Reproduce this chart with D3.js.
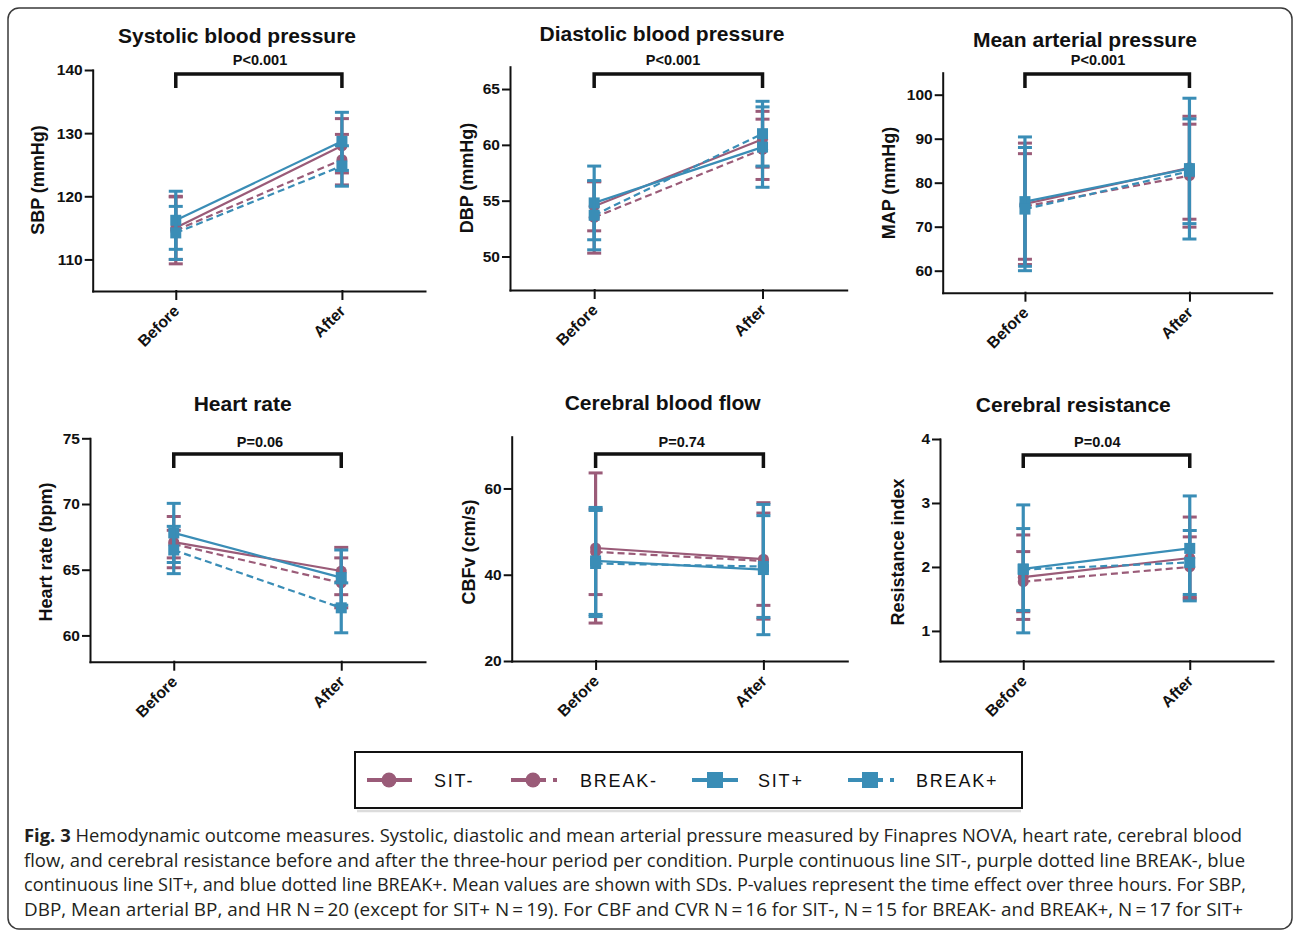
<!DOCTYPE html>
<html>
<head>
<meta charset="utf-8">
<script src="https://cdn.jsdelivr.net/npm/d3@7"></script>
<style>
  body { margin: 0; background: #fff; }
  svg { display: block; }
</style>
</head>
<body>
<svg id="fig" width="1295" height="936"></svg>
<script>
// Hemodynamic outcome measures, mean +/- SD, before and after the three hours

const timepoints = ['Before', 'After'];
const seriesNames = ['SIT-', 'BREAK-', 'SIT+', 'BREAK+'];
const panelTitles = ['Systolic blood pressure', 'Diastolic blood pressure', 'Mean arterial pressure',
  'Heart rate', 'Cerebral blood flow', 'Cerebral resistance'];
const yLabels = ['SBP (mmHg)', 'DBP (mmHg)', 'MAP (mmHg)', 'Heart rate (bpm)', 'CBFv (cm/s)', 'Resistance index'];
const pLabels = ['P<0.001', 'P<0.001', 'P<0.001', 'P=0.06', 'P=0.74', 'P=0.04'];
const yDomains = [[105, 140], [47, 67], [55, 105], [58, 75], [20, 72], [0.53, 4]];
const yTicks = [[110, 120, 130, 140], [50, 55, 60, 65], [60, 70, 80, 90, 100], [60, 65, 70, 75], [20, 40, 60], [1, 2, 3, 4]];

// rows: SIT-, BREAK-, SIT+, BREAK+ ; columns: Before, After
const sbpMean = [[115.0, 128.0], [114.6, 125.8], [116.2, 128.7], [114.2, 124.8]];
const sbpSD = [[5.0, 4.3], [5.3, 4.0], [4.6, 4.6], [4.2, 3.2]];
const dbpMean = [[54.5, 60.5], [53.5, 59.6], [54.8, 59.8], [53.7, 61.0]];
const dbpSD = [[2.2, 2.5], [3.2, 2.7], [3.3, 3.6], [3.1, 2.9]];
const mapMean = [[75.2, 83.4], [74.6, 81.6], [75.7, 83.2], [74.0, 82.6]];
const mapSD = [[13.8, 11.7], [12.0, 11.7], [14.7, 16.0], [14.0, 11.9]];
const hrMean = [[67.1, 64.9], [66.95, 64.0], [67.8, 64.4], [66.5, 62.1]];
const hrSD = [[1.95, 1.8], [1.05, 1.9], [2.25, 2.1], [1.8, 1.9]];
const cbfMean = [[46.2, 43.6], [45.3, 43.2], [43.2, 41.2], [42.6, 41.9]];
const cbfSD = [[17.4, 10.7], [9.9, 13.5], [12.4, 15.1], [12.3, 11.8]];
const cvrMean = [[1.84, 2.14], [1.77, 2.0], [1.97, 2.29], [1.96, 2.07]];
const cvrSD = [[0.66, 0.64], [0.47, 0.47], [1.0, 0.82], [0.64, 0.5]];

const panelMeans = [sbpMean, dbpMean, mapMean, hrMean, cbfMean, cvrMean];
const panelSDs = [sbpSD, dbpSD, mapSD, hrSD, cbfSD, cvrSD];

const captionLines = [
  ' Hemodynamic outcome measures. Systolic, diastolic and mean arterial pressure measured by Finapres NOVA, heart rate, cerebral blood',
  'flow, and cerebral resistance before and after the three-hour period per condition. Purple continuous line SIT-, purple dotted line BREAK-, blue',
  'continuous line SIT+, and blue dotted line BREAK+. Mean values are shown with SDs. P-values represent the time effect over three hours. For SBP,',
  'DBP, Mean arterial BP, and HR N\u2009=\u200920 (except for SIT+ N\u2009=\u200919). For CBF and CVR N\u2009=\u200916 for SIT-, N\u2009=\u200915 for BREAK- and BREAK+, N\u2009=\u200917 for SIT+'
];

// ---- layout ----
const PURPLE = '#9a5b78';
const BLUE = '#3a8db6';
const FONT = 'Arial, "Liberation Sans", sans-serif';

const seriesStyle = [
  {color: PURPLE, dash: null, shape: 'circle'},
  {color: PURPLE, dash: '7,4', shape: 'circle'},
  {color: BLUE, dash: null, shape: 'square'},
  {color: BLUE, dash: '7,4', shape: 'square'}
];

const panels = [
  {x0: 92.7, x1: 425, yTop: 70, yBottom: 291, titleX: 237, titleY: 43, labX: 38, labY: 180, pX: 260, pY: 65, brY: 74, brLeg: 88},
  {x0: 510, x1: 846.7, yTop: 66.7, yBottom: 290, titleX: 662, titleY: 41, labX: 466.7, labY: 178, pX: 673, pY: 65, brY: 74, brLeg: 88},
  {x0: 942.7, x1: 1271.7, yTop: 72.7, yBottom: 292.7, titleX: 1085, titleY: 47, labX: 889.3, labY: 183, pX: 1098, pY: 65, brY: 74, brLeg: 88},
  {x0: 90, x1: 425, yTop: 438.3, yBottom: 661.7, titleX: 242.7, titleY: 411, labX: 46, labY: 552, pX: 260, pY: 447, brY: 454, brLeg: 468},
  {x0: 511.7, x1: 847.3, yTop: 436.7, yBottom: 661, titleX: 662.7, titleY: 410, labX: 469.3, labY: 552, pX: 681.7, pY: 447, brY: 454, brLeg: 468},
  {x0: 940, x1: 1273, yTop: 439, yBottom: 661, titleX: 1073.3, titleY: 412, labX: 898.3, labY: 552, pX: 1097.3, pY: 447, brY: 455, brLeg: 468}
];

const svg = d3.select('#fig');

// outer frame
svg.append('rect')
  .attr('x', 8).attr('y', 8).attr('width', 1284).attr('height', 921).attr('rx', 11)
  .attr('fill', 'none').attr('stroke', '#3a3a3a').attr('stroke-width', 1.5);

panels.forEach((p, i) => {
  const g = svg.append('g').attr('class', 'panel');
  const x = d3.scalePoint().domain(timepoints).range([p.x0, p.x1]).padding(0.5);
  const y = d3.scaleLinear().domain(yDomains[i]).range([p.yBottom, p.yTop]);

  // y axis
  const yAx = g.append('g')
    .attr('transform', `translate(${p.x0},0)`)
    .call(d3.axisLeft(y).tickValues(yTicks[i]).tickFormat(d3.format('d'))
      .tickSize(7).tickSizeOuter(0).tickPadding(3));
  // x axis
  const xAx = g.append('g')
    .attr('transform', `translate(0,${p.yBottom})`)
    .call(d3.axisBottom(x).tickSize(8).tickSizeOuter(0));

  [yAx, xAx].forEach(ax => {
    ax.attr('font-family', FONT).attr('font-size', 15.5).attr('font-weight', 'bold');
    ax.selectAll('path, line').attr('stroke', '#111').attr('stroke-width', 2).attr('stroke-linecap', 'square');
    ax.selectAll('text').attr('fill', '#111');
  });
  xAx.selectAll('.tick text')
    .attr('font-size', 16)
    .attr('x', 0).attr('y', 0).attr('dy', null)
    .attr('transform', 'translate(4,21) rotate(-45)')
    .attr('text-anchor', 'end');

  // title and y label
  g.append('text')
    .attr('x', p.titleX).attr('y', p.titleY)
    .attr('text-anchor', 'middle')
    .attr('font-family', FONT).attr('font-size', 21).attr('font-weight', 'bold').attr('fill', '#111')
    .text(panelTitles[i]);
  g.append('text')
    .attr('transform', `translate(${p.labX},${p.labY}) rotate(-90)`)
    .attr('text-anchor', 'middle').attr('dominant-baseline', 'central')
    .attr('font-family', FONT).attr('font-size', 18).attr('font-weight', 'bold').attr('fill', '#111')
    .text(yLabels[i]);

  // significance bracket
  g.append('path')
    .attr('d', `M${x(timepoints[0])},${p.brLeg}V${p.brY}H${x(timepoints[1])}V${p.brLeg}`)
    .attr('fill', 'none').attr('stroke', '#111').attr('stroke-width', 3.5);
  g.append('text')
    .attr('x', p.pX).attr('y', p.pY)
    .attr('text-anchor', 'middle')
    .attr('font-family', FONT).attr('font-size', 14.5).attr('font-weight', 'bold').attr('fill', '#111')
    .text(pLabels[i]);

  // series
  seriesNames.forEach((name, s) => {
    const st = seriesStyle[s];
    const pts = timepoints.map((t, k) => ({t, m: panelMeans[i][s][k], sd: panelSDs[i][s][k]}));
    const sg = g.append('g').attr('class', 'series').attr('data-name', name);

    sg.selectAll('line.bar').data(pts).join('line')
      .attr('class', 'bar')
      .attr('x1', d => x(d.t)).attr('x2', d => x(d.t))
      .attr('y1', d => y(d.m - d.sd)).attr('y2', d => y(d.m + d.sd))
      .attr('stroke', st.color).attr('stroke-width', 3.2);
    const caps = pts.flatMap(d => [d.m - d.sd, d.m + d.sd].map(v => ({t: d.t, v})));
    sg.selectAll('line.cap').data(caps).join('line')
      .attr('class', 'cap')
      .attr('x1', d => x(d.t) - 7).attr('x2', d => x(d.t) + 7)
      .attr('y1', d => y(d.v)).attr('y2', d => y(d.v))
      .attr('stroke', st.color).attr('stroke-width', 3);

    sg.append('path').datum(pts)
      .attr('d', d3.line().x(d => x(d.t)).y(d => y(d.m)))
      .attr('fill', 'none').attr('stroke', st.color).attr('stroke-width', 2.2)
      .attr('stroke-dasharray', st.dash);

    if (st.shape === 'circle') {
      sg.selectAll('circle').data(pts).join('circle')
        .attr('cx', d => x(d.t)).attr('cy', d => y(d.m)).attr('r', 5.5)
        .attr('fill', st.color);
    } else {
      sg.selectAll('rect').data(pts).join('rect')
        .attr('x', d => x(d.t) - 5.5).attr('y', d => y(d.m) - 5.5)
        .attr('width', 11).attr('height', 11)
        .attr('fill', st.color);
    }
  });
});

// ---- legend ----
svg.append('line')
  .attr('x1', 357).attr('x2', 1021).attr('y1', 811).attr('y2', 811)
  .attr('stroke', '#dcdcdc').attr('stroke-width', 2.5);
svg.append('rect')
  .attr('x', 355).attr('y', 752).attr('width', 667).attr('height', 56)
  .attr('fill', '#fff').attr('stroke', '#111').attr('stroke-width', 2);

const legendPos = [
  {x1: 367, x2: 412, mark: 389, text: 434},
  {x1: 511, x2: 557, mark: 533, text: 580},
  {x1: 692, x2: 738, mark: 715, text: 758},
  {x1: 848, x2: 895, mark: 870, text: 916}
];
const ly = 780;
const lg = svg.append('g').attr('class', 'legend');
seriesNames.forEach((name, s) => {
  const st = seriesStyle[s];
  const lp = legendPos[s];
  lg.append('line')
    .attr('x1', lp.x1).attr('x2', lp.x2).attr('y1', ly).attr('y2', ly)
    .attr('stroke', st.color).attr('stroke-width', 4)
    .attr('stroke-dasharray', st.dash ? '35,7,4,50' : null);
  if (st.shape === 'circle') {
    lg.append('circle').attr('cx', lp.mark).attr('cy', ly).attr('r', 7.5).attr('fill', st.color);
  } else {
    lg.append('rect').attr('x', lp.mark - 8).attr('y', ly - 8).attr('width', 16).attr('height', 16).attr('fill', st.color);
  }
  lg.append('text')
    .attr('x', lp.text).attr('y', ly + 6.5)
    .attr('font-family', FONT).attr('font-size', 18).attr('letter-spacing', 1.8).attr('fill', '#111')
    .text(name);
});

// ---- caption ----
const cap = svg.append('g').attr('class', 'caption')
  .attr('font-family', '"Open Sans", "Noto Sans", sans-serif').attr('font-size', 18.5).attr('fill', '#231f20');
const capWidths = [1218, 1221, 1222, 1219];
captionLines.forEach((line, k) => {
  const t = cap.append('text')
    .attr('x', 24).attr('y', 842 + k * 24.7)
    .attr('textLength', capWidths[k]).attr('lengthAdjust', 'spacingAndGlyphs');
  if (k === 0) t.append('tspan').attr('font-weight', 'bold').text('Fig. 3');
  t.append('tspan').text(line);
});
</script>
</body>
</html>
